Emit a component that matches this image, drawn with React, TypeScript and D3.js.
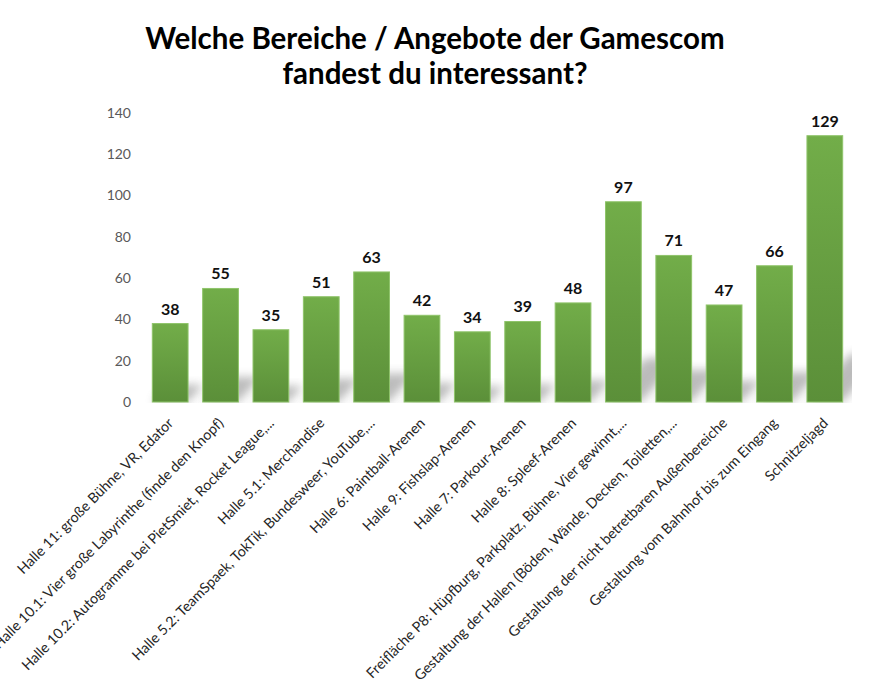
import React from "react";
import * as d3 from "d3";

const categories: string[] = [
  "Halle 11: große Bühne, VR, Edator",
  "Halle 10.1: Vier große Labyrinthe (finde den Knopf)",
  "Halle 10.2: Autogramme bei PietSmiet, Rocket League,...",
  "Halle 5.1: Merchandise",
  "Halle 5.2: TeamSpaek, TokTik, Bundesweer, YouTube,...",
  "Halle 6: Paintball-Arenen",
  "Halle 9: Fishslap-Arenen",
  "Halle 7: Parkour-Arenen",
  "Halle 8: Spleef-Arenen",
  "Freifläche P8: Hüpfburg, Parkplatz, Bühne, Vier gewinnt,...",
  "Gestaltung der Hallen (Böden, Wände, Decken, Toiletten,...",
  "Gestaltung der nicht betretbaren Außenbereiche",
  "Gestaltung vom Bahnhof bis zum Eingang",
  "Schnitzeljagd",
];
const values: number[] = [38, 55, 35, 51, 63, 42, 34, 39, 48, 97, 71, 47, 66, 129];
const yTicks: number[] = [0, 20, 40, 60, 80, 100, 120, 140];
const titleLines: string[] = ["Welche Bereiche / Angebote der Gamescom", "fandest du interessant?"];

const W = 870;
const H = 700;
const FONT = "Lato, 'Open Sans', sans-serif";

export default function App() {
  const x = d3.scaleBand<string>().domain(categories).range([145, 850]).paddingInner(0.29).paddingOuter(0.145);
  const y = d3.scaleLinear().domain([0, 140]).range([402, 113]);
  const y0 = y(0);
  const bw = x.bandwidth();

  return (
    <svg width={W} height={H} style={{ position: "absolute", left: 0, top: 0, background: "#fff" }}>
      <defs>
        <linearGradient id="barGrad" x1="0" y1="0" x2="0" y2="1">
          <stop offset="0%" stopColor="#72ad49" />
          <stop offset="100%" stopColor="#5b8f39" />
        </linearGradient>
        <filter id="blur" x="-50%" y="-50%" width="200%" height="200%">
          <feGaussianBlur stdDeviation="5" />
        </filter>
        <clipPath id="plotClip">
          <rect x={140} y={100} width={712} height={303} />
        </clipPath>
      </defs>

      <g fontFamily={FONT} fontWeight="bold" fontSize={29.5} fill="#000" textAnchor="middle">
        {titleLines.map((t, i) => (
          <text key={i} x={435} y={49 + i * 35}>{t}</text>
        ))}
      </g>

      <g fontFamily={FONT} fontSize={14} fill="#595959" textAnchor="end">
        {yTicks.map((t) => (
          <text key={t} x={131} y={y(t)} dy="0.35em">{t}</text>
        ))}
      </g>

      <g clipPath="url(#plotClip)">
        {values.map((v, i) => {
          const x0 = x(categories[i])!;
          const h = y0 - y(v);
          const sh = Math.min(h * 0.22, 48);
          const skew = sh * 0.9;
          const pts = [
            [x0, y0],
            [x0 + bw, y0],
            [x0 + bw + skew, y0 - sh],
            [x0 + skew, y0 - sh],
          ].map((p) => p.join(",")).join(" ");
          return <polygon key={i} points={pts} fill="#6b6b6b" opacity={0.45} filter="url(#blur)" />;
        })}
      </g>

      <g>
        {values.map((v, i) => (
          <rect
            key={i}
            x={x(categories[i])!}
            y={y(v)}
            width={bw}
            height={y0 - y(v)}
            fill="url(#barGrad)"
            stroke="#8fc46a"
            strokeWidth={1}
          />
        ))}
      </g>

      <g fontFamily={FONT} fontWeight="bold" fontSize={16} fill="#111" textAnchor="middle">
        {values.map((v, i) => (
          <text key={i} x={x(categories[i])! + bw / 2} y={y(v) - 9}>{v}</text>
        ))}
      </g>

      <g fontFamily={FONT} fontSize={14.3} fill="#262626" textAnchor="end">
        {categories.map((c, i) => {
          const cx = x(c)! + bw / 2 + 4;
          const cy = y0 + 22;
          return (
            <text key={i} x={cx} y={cy} transform={`rotate(-45, ${cx}, ${cy})`}>{c}</text>
          );
        })}
      </g>
    </svg>
  );
}
